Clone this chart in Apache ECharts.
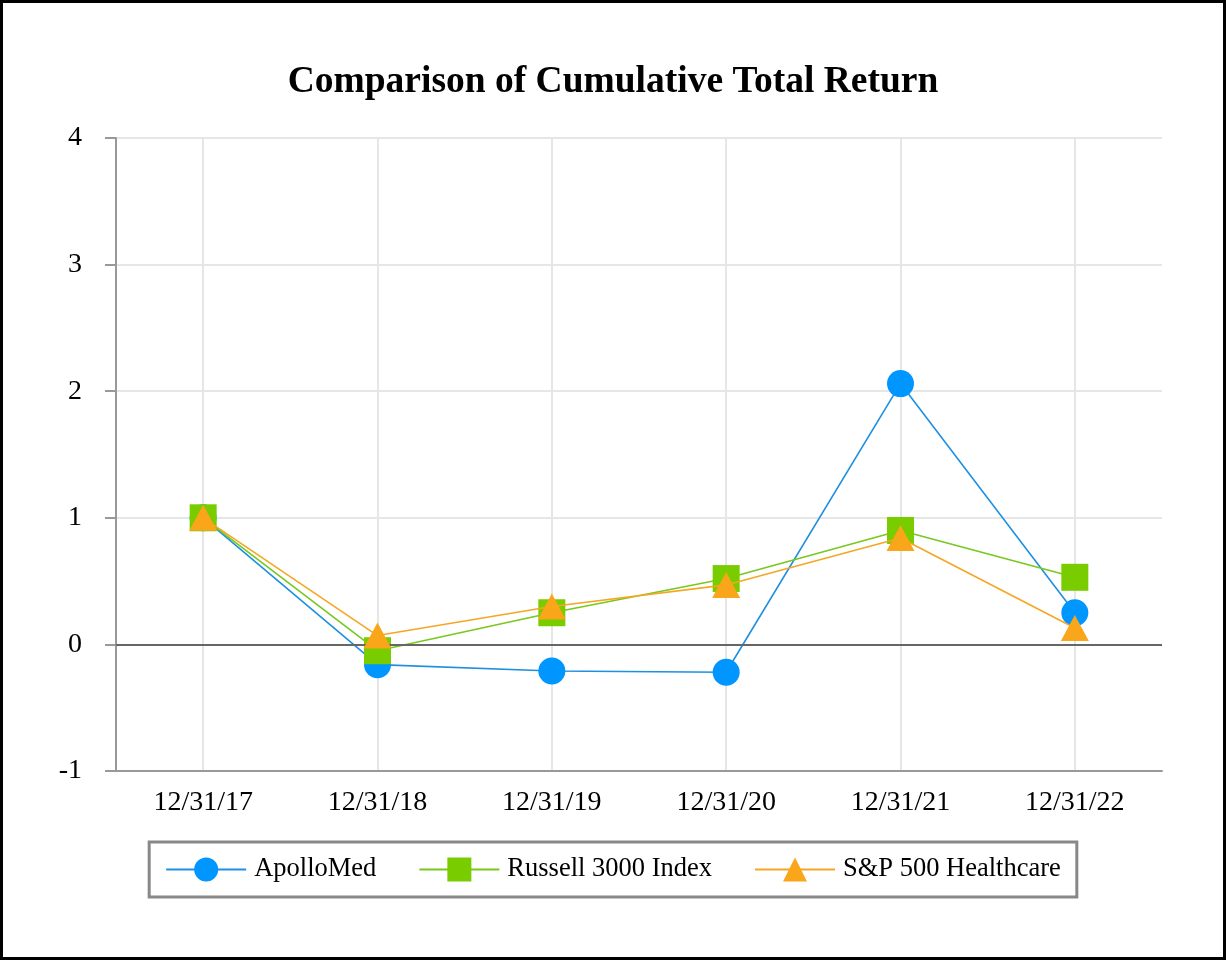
<!DOCTYPE html>
<html>
<head>
<meta charset="utf-8">
<script src="https://cdn.jsdelivr.net/npm/echarts@6/dist/echarts.min.js"></script>
<style>
html,body{margin:0;padding:0;background:#fff;}
#wrap{position:relative;width:1226px;height:960px;}
#chart{position:absolute;left:0;top:0;width:1226px;height:960px;}
#frame{position:absolute;left:0;top:0;width:1226px;height:960px;box-sizing:border-box;border:3px solid #000;pointer-events:none;}
</style>
</head>
<body>
<div id="wrap"><div id="chart"></div><div id="frame"></div></div>
<script>
const categories = ['12/31/17','12/31/18','12/31/19','12/31/20','12/31/21','12/31/22'];
const apolloMed = [1.00, -0.16, -0.21, -0.22, 2.06, 0.25];
const russell3000 = [1.00, -0.05, 0.25, 0.52, 0.90, 0.53];
const sp500Health = [1.00, 0.07, 0.30, 0.47, 0.84, 0.13];
const yTicks = { min: -1, max: 4, interval: 1 };

const font = '"Liberation Serif", "Times New Roman", serif';
const chart = echarts.init(document.getElementById('chart'));
chart.setOption({
  animation: false,
  title: {
    text: 'Comparison of Cumulative Total Return',
    left: 'center', top: 58,
    textStyle: { fontFamily: font, fontSize: 37.5, fontWeight: 'bold', color: '#000' }
  },
  grid: { left: 116, right: 64, top: 138, bottom: 189 },
  xAxis: {
    type: 'category', data: categories, boundaryGap: true,
    axisLine: { onZero: false, lineStyle: { color: '#999', width: 2 } },
    axisTick: { alignWithLabel: true, length: 11, lineStyle: { color: '#999', width: 2 } },
    axisLabel: { fontFamily: font, fontSize: 28, color: '#000', margin: 18 },
    splitLine: { show: true, alignWithLabel: true, lineStyle: { color: '#e6e6e6', width: 2 } }
  },
  yAxis: {
    type: 'value', min: yTicks.min, max: yTicks.max, interval: yTicks.interval,
    axisLine: { show: true, lineStyle: { color: '#999', width: 2 } },
    axisTick: { show: true, length: 11, lineStyle: { color: '#999', width: 2 } },
    axisLabel: { fontFamily: font, fontSize: 28, color: '#000', margin: 34 },
    splitLine: { show: true, lineStyle: { color: '#e6e6e6', width: 2 } }
  },
  legend: {
    bottom: 63, left: 'center',
    itemWidth: 80, itemHeight: 30, itemGap: 42,
    borderColor: '#888', borderWidth: 3, padding: [14, 16],
    textStyle: { fontFamily: font, fontSize: 26.5, color: '#000', padding: [0, 0, 0, 3] },
    data: ['ApolloMed', 'Russell 3000 Index', 'S&P 500 Healthcare']
  },
  series: [
    {
      name: 'ApolloMed', type: 'line', data: apolloMed,
      symbol: 'circle', symbolSize: 27,
      itemStyle: { color: '#0096ff' },
      lineStyle: { color: '#1e90e0', width: 1.6 },
      markLine: {
        silent: true, symbol: 'none', label: { show: false },
        lineStyle: { color: '#666', width: 2, type: 'solid' },
        data: [{ yAxis: 0 }]
      },
      z: 3
    },
    {
      name: 'Russell 3000 Index', type: 'line', data: russell3000,
      symbol: 'rect', symbolSize: 27,
      itemStyle: { color: '#78cc00' },
      lineStyle: { color: '#78c81e', width: 1.6 },
      z: 4
    },
    {
      name: 'S&P 500 Healthcare', type: 'line', data: sp500Health,
      symbol: 'triangle', symbolSize: [28, 26],
      itemStyle: { color: '#f9a61a' },
      lineStyle: { color: '#f5a623', width: 1.6 },
      z: 5
    }
  ]
});
</script>
</body>
</html>
